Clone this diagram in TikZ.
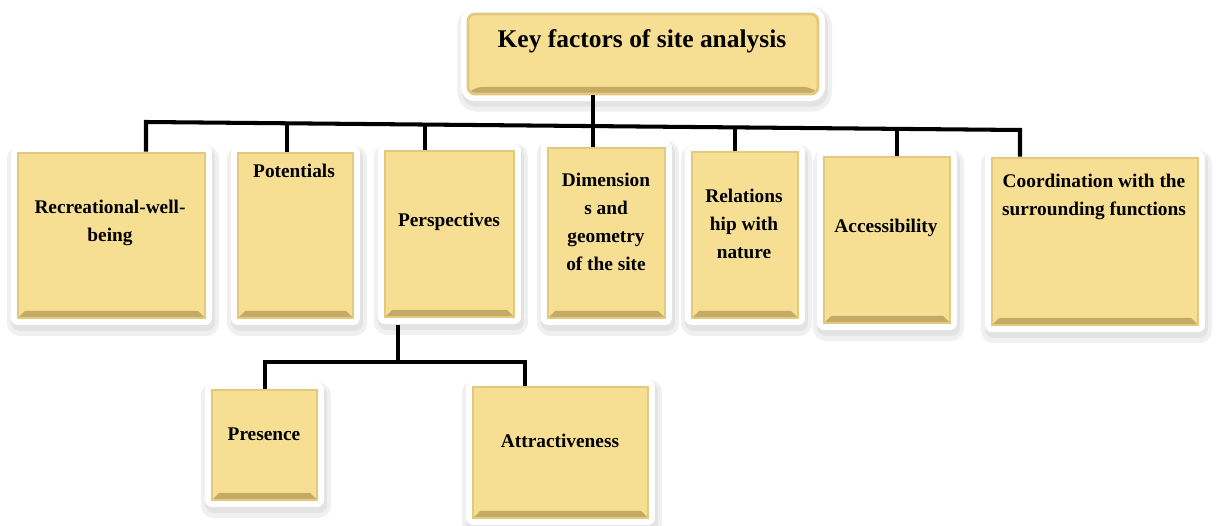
\documentclass[tikz,border=0pt]{standalone}
\usepackage{fontspec}
\setmainfont{Liberation Serif}
\usetikzlibrary{fit}

\definecolor{boxfill}{RGB}{246,223,146}
\definecolor{boxedge}{RGB}{226,201,126}
\definecolor{boxdark}{RGB}{196,170,100}

\tikzset{
	box/.style={fill=boxfill, draw=boxedge, line width=1.6pt, inner sep=0pt,
		preaction={draw=black!6, fill=black!6, line width=14pt, line join=round,
			transform canvas={xshift=1pt, yshift=-3pt}},
		preaction={draw=black!11, fill=black!11, line width=9.5pt, line join=round,
			transform canvas={xshift=1pt, yshift=-2.5pt}},
		preaction={draw=white, line width=8pt, line join=round},
		path picture={
			\fill[boxdark] (path picture bounding box.south west)
				-- (path picture bounding box.south east)
				-- ([shift={(-4pt,4pt)}]path picture bounding box.south east)
				-- ([shift={(4pt,4pt)}]path picture bounding box.south west) -- cycle;
		}},
	lbl/.style={font=\bfseries\fontsize{11}{16}\selectfont, align=center, inner sep=0pt},
	headlbl/.style={font=\bfseries\fontsize{14.5}{17}\selectfont, inner sep=0pt},
	link/.style={draw=black, line width=2.3pt},
}

\begin{document}
\begin{tikzpicture}[x=0.02cm, y=-0.02cm]
	\useasboundingbox (0,0) rectangle (1222,526);

	% boxes
	\node[box, rounded corners=4pt, fit={(468,14) (818,94)}] (head) {};
	\node[box, fit={(18,153) (205,318)}]	(rec) {};
	\node[box, fit={(238,153) (353,318)}]	(pot) {};
	\node[box, fit={(385,151) (514,317)}]	(per) {};
	\node[box, fit={(548,148) (665,318)}]	(dim) {};
	\node[box, fit={(692,152) (798,318)}]	(rel) {};
	\node[box, fit={(824,157) (950,323)}]	(acc) {};
	\node[box, fit={(992,158) (1198,325)}]	(coo) {};
	\node[box, fit={(212,390) (317,500)}]	(pre) {};
	\node[box, fit={(473,387) (648,518)}]	(att) {};

	% texts
	\node[headlbl]	(head-t) at (642,41)	{Key factors of site analysis};
	\node[lbl]		(rec-t) at (110,223)	{Recreational-well-\\being};
	\node[lbl]		(pot-t) at (294,171)	{Potentials};
	\node[lbl]		(per-t) at (449,222)	{Perspectives};
	\node[lbl]		(dim-t) at (606,222)	{Dimension\\s and\\geometry\\of the site};
	\node[lbl]		(rel-t) at (744,224)	{Relations\\hip with\\nature};
	\node[lbl]		(acc-t) at (886,228)	{Accessibility};
	\node[lbl]		(coo-t) at (1094,197)	{Coordination with the\\surrounding functions};
	\node[lbl]		(pre-t) at (264,434)	{Presence};
	\node[lbl]		(att-t) at (560,441)	{Attractiveness};

	% connectors
	\coordinate (d-rec) at (146,122);
	\coordinate (d-pot) at (287,123);
	\coordinate (d-per) at (425,124.5);
	\coordinate (d-dim) at (593,126);
	\coordinate (d-rel) at (735,127.5);
	\coordinate (d-acc) at (897,129);
	\coordinate (d-coo) at (1020,130);

	\draw[link]	(d-rec |- rec.north) -- (d-rec) -- (d-coo) -- (d-coo |- coo.north);
	\draw[link]	(d-dim |- head.south) -- (d-dim |- dim.north);
	\foreach \n in {pot, per, rel, acc}
		\draw[link] (d-\n) -- (d-\n |- \n.north);

	\coordinate (s-per) at (398,325);
	\coordinate (b-pre) at (265,362);
	\coordinate (b-att) at (525,362);
	\draw[link]	(s-per) -- (s-per |- b-pre);
	\draw[link]	(b-pre |- pre.north) -- (b-pre) -- (b-att) -- (b-att |- att.north);
\end{tikzpicture}
\end{document}
